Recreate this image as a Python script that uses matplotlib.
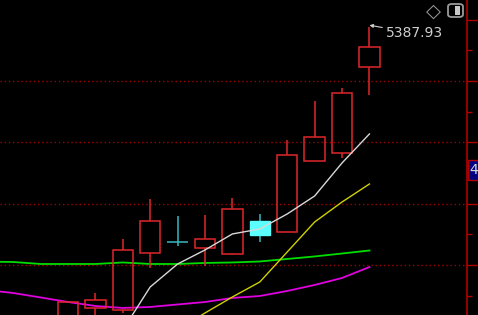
import numpy as np
import matplotlib.pyplot as plt
from matplotlib.patches import Rectangle, FancyBboxPatch
from matplotlib.ticker import MultipleLocator

# daily candles (index 0..11 visible on screen)
opens = [4897.0, 4929.8, 4926.5, 5019.5, 5037.4, 5027.6, 5017.8, 5071.7, 5053.7, 5169.5, 5182.6, 5322.8]
closes = [4939.5, 4942.8, 5024.4, 5071.7, 5035.8, 5042.3, 5091.2, 5048.8, 5179.3, 5208.7, 5280.4, 5355.5]
highs = [4939.5, 4954.2, 5042.3, 5107.5, 5079.8, 5081.4, 5109.2, 5083.1, 5203.8, 5267.4, 5288.6, 5387.93]
lows = [4886.0, 4913.4, 4921.6, 4995.0, 5030.9, 4998.3, 5016.2, 5037.4, 5053.7, 5169.5, 5174.4, 5277.2]

# moving averages, each with the candle index where it starts
ma5_start = 2
ma5 = [4893.9, 4964.0, 5001.5, 5024.4, 5050.5, 5058.6, 5083.1, 5112.4, 5166.3, 5213.6]
ma10_start = 4
ma10 = [4893.9, 4921.6, 4947.7, 4972.2, 5021.1, 5070.0, 5102.6, 5132.0]
ma20_start = -3
ma20 = [5005.3, 5004.8, 5001.5, 5001.5, 5001.5, 5004.0, 5001.5, 5001.5, 5003.2, 5004.0,
        5005.6, 5009.7, 5013.8, 5018.6, 5023.5]
ma60_start = -3
ma60 = [4959.1, 4954.2, 4946.9, 4939.5, 4933.0, 4929.8, 4931.4, 4935.5, 4939.5, 4946.1,
        4949.3, 4957.5, 4967.3, 4978.7, 4996.6]

grid_levels = [5000, 5100, 5200, 5300]
high_label = "5387.93"

UP = '#e0262a'
DOWN_EDGE = '#3ab7c0'
DOWN_FILL = '#5cffff'

fig = plt.figure(figsize=(4.78, 3.15), dpi=100, facecolor='black')
ax = fig.add_axes([0, 0, 467 / 478, 1])
ax.set_facecolor('black')

for lvl in grid_levels:
    ax.axhline(lvl, color='#a00000', lw=1, ls=(0, (1, 2)), zorder=1)

w = 0.74
for i in range(len(opens)):
    o, c, h, l = opens[i], closes[i], highs[i], lows[i]
    top, bot = max(o, c), min(o, c)
    if c > o:
        ax.vlines(i, top, h, color=UP, lw=1.1, zorder=3)
        ax.vlines(i, l, bot, color=UP, lw=1.1, zorder=3)
        ax.add_patch(Rectangle((i - w / 2, bot), w, top - bot, facecolor='none',
                               edgecolor=UP, lw=1.1, zorder=3))
    elif top - bot < 3:
        # doji: just a cross
        ax.vlines(i, l, h, color=DOWN_EDGE, lw=1.1, zorder=3)
        ax.hlines(o, i - w / 2, i + w / 2, color=DOWN_EDGE, lw=1.1, zorder=3)
    else:
        ax.vlines(i, l, h, color=DOWN_EDGE, lw=1.1, zorder=3)
        ax.add_patch(Rectangle((i - w / 2, bot), w, top - bot, facecolor=DOWN_FILL,
                               edgecolor=DOWN_FILL, lw=1, zorder=3))

ax.plot(np.arange(len(ma5)) + ma5_start, ma5, color='#d8d8d8', lw=1, zorder=4)
ax.plot(np.arange(len(ma10)) + ma10_start, ma10, color='#d0d000', lw=1, zorder=4)
ax.plot(np.arange(len(ma20)) + ma20_start, ma20, color='#00dd00', lw=1.3, zorder=2)
ax.plot(np.arange(len(ma60)) + ma60_start, ma60, color='#e000e0', lw=1.3, zorder=2)

# label the highest price
hi = int(np.argmax(highs))
ax.annotate(high_label, xy=(hi, highs[hi] + 3), xytext=(hi + 0.62, highs[hi] - 10),
            color='#cfcfcf', fontsize=10, va='center', ha='left',
            arrowprops=dict(arrowstyle='-|>', color='#cfcfcf', lw=0.8,
                            mutation_scale=5, shrinkA=1, shrinkB=0), zorder=5)

ax.set_xlim(-2.48, 14.56)
ax.set_ylim(4918.3, 5432.1)

for s in ['left', 'top', 'bottom']:
    ax.spines[s].set_visible(False)
ax.spines['right'].set_color('#b00000')
ax.spines['right'].set_linewidth(1.2)
ax.set_xticks([])
ax.yaxis.tick_right()
ax.yaxis.set_major_locator(MultipleLocator(100))
ax.yaxis.set_minor_locator(MultipleLocator(50))
ax.tick_params(axis='y', which='major', direction='out', length=7, width=1,
               color='#b00000', labelright=False)
ax.tick_params(axis='y', which='minor', direction='out', length=3.5, width=1,
               color='#b00000')

# small box on the price axis
fig.patches.append(Rectangle((468 / 478, 1 - 180 / 315), 10 / 478, 20 / 315,
                             transform=fig.transFigure, facecolor='#000080',
                             edgecolor='#b00000', lw=1))
fig.text(473.5 / 478, 1 - 170 / 315, '4', color='#d8d8d8', fontsize=10,
         ha='center', va='center')

# toolbar icons top right
fig.text(433 / 478, 1 - 11 / 315, '\u25c7', color='#9a9a9a', fontsize=14,
         ha='center', va='center')
fig.patches.append(FancyBboxPatch((448 / 478, 1 - 17 / 315), 15 / 478, 13 / 315,
                                  boxstyle='round,pad=0,rounding_size=0.008',
                                  transform=fig.transFigure, facecolor='none',
                                  edgecolor='#9a9a9a', lw=1.3))
fig.patches.append(Rectangle((455 / 478, 1 - 15 / 315), 5 / 478, 9 / 315,
                             transform=fig.transFigure, facecolor='#c8c8c8',
                             edgecolor='none'))

fig.savefig('out.png', dpi=100, facecolor='black')
